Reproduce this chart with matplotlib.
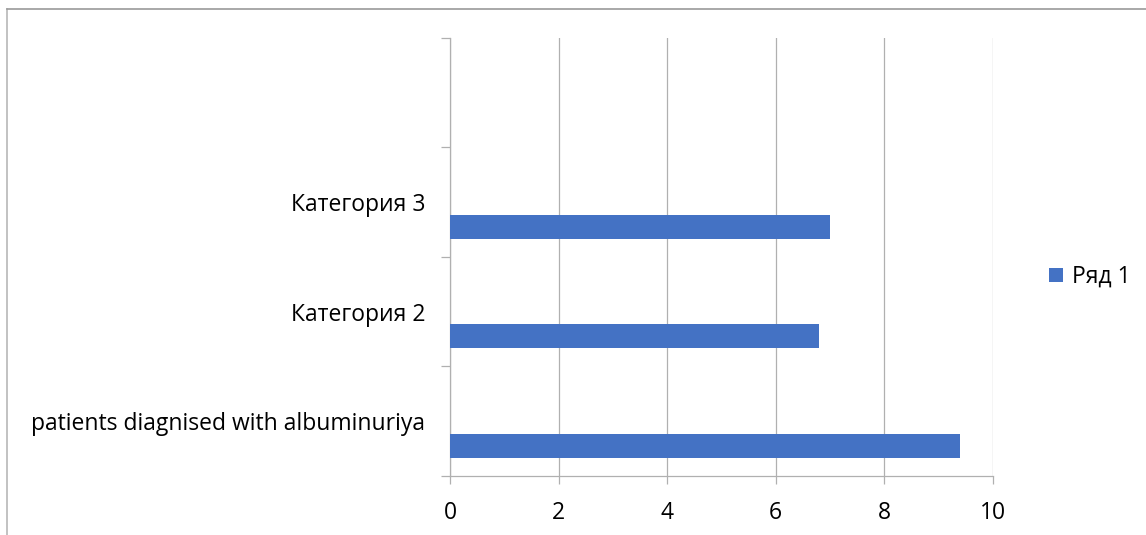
import matplotlib.pyplot as plt
from matplotlib.lines import Line2D

# data
categories = ['patients diagnised with albuminuriya', 'Категория 2', 'Категория 3', '']
values = [9.4, 6.8, 7.0, None]
series_name = 'Ряд 1'
x_ticks = [0, 2, 4, 6, 8, 10]

bar_color = '#4472C4'
grid_color = '#b0b0b0'
fs = 16.5

plt.rcParams['font.family'] = ['Open Sans', 'DejaVu Sans']

fig = plt.figure(figsize=(11.46, 5.35), dpi=100)
ax = fig.add_axes([450 / 1146, 1 - 476 / 535, 543 / 1146, 438.3 / 535])

# bars sit in the lower part of each category slot
pos = [i for i, v in enumerate(values) if v is not None]
vals = [v for v in values if v is not None]
ax.barh([p - 0.224 for p in pos], vals, height=0.22, color=bar_color,
        label=series_name, zorder=3)

ax.set_xlim(0, 10)
ax.set_ylim(-0.5, len(categories) - 0.5)
ax.set_xticks(x_ticks)
ax.set_xticklabels([str(t) for t in x_ticks])
ax.set_yticks(range(len(categories)))
ax.set_yticklabels(categories)
ax.set_yticks([i - 0.5 for i in range(len(categories) + 1)], minor=True)

ax.tick_params(axis='y', which='major', length=0, pad=18, labelsize=fs)
ax.tick_params(axis='y', which='minor', length=6.5, width=0.9, color=grid_color)
ax.tick_params(axis='x', length=6, width=0.9, color=grid_color, pad=12, labelsize=fs)

ax.grid(axis='x', color=grid_color, linewidth=0.9, zorder=0)
for side in ['top', 'right']:
    ax.spines[side].set_visible(False)
for side in ['left', 'bottom']:
    ax.spines[side].set_color(grid_color)
    ax.spines[side].set_linewidth(0.9)

leg = fig.legend(loc='center left', bbox_to_anchor=(1049 / 1146, 1 - 277 / 535),
                 frameon=False, fontsize=fs, handlelength=0.62, handleheight=0.62,
                 handletextpad=0.4, borderpad=0, borderaxespad=0)

# outer chart border (cut off on the right and bottom)
fig.add_artist(Line2D([7 / 1146, 7 / 1146], [0, 1 - 9 / 535], color='#b8b8b8', lw=1.2))
fig.add_artist(Line2D([7 / 1146, 1], [1 - 9 / 535, 1 - 9 / 535], color='#9a9a9a', lw=1.2))

fig.savefig('out.png', dpi=100)
